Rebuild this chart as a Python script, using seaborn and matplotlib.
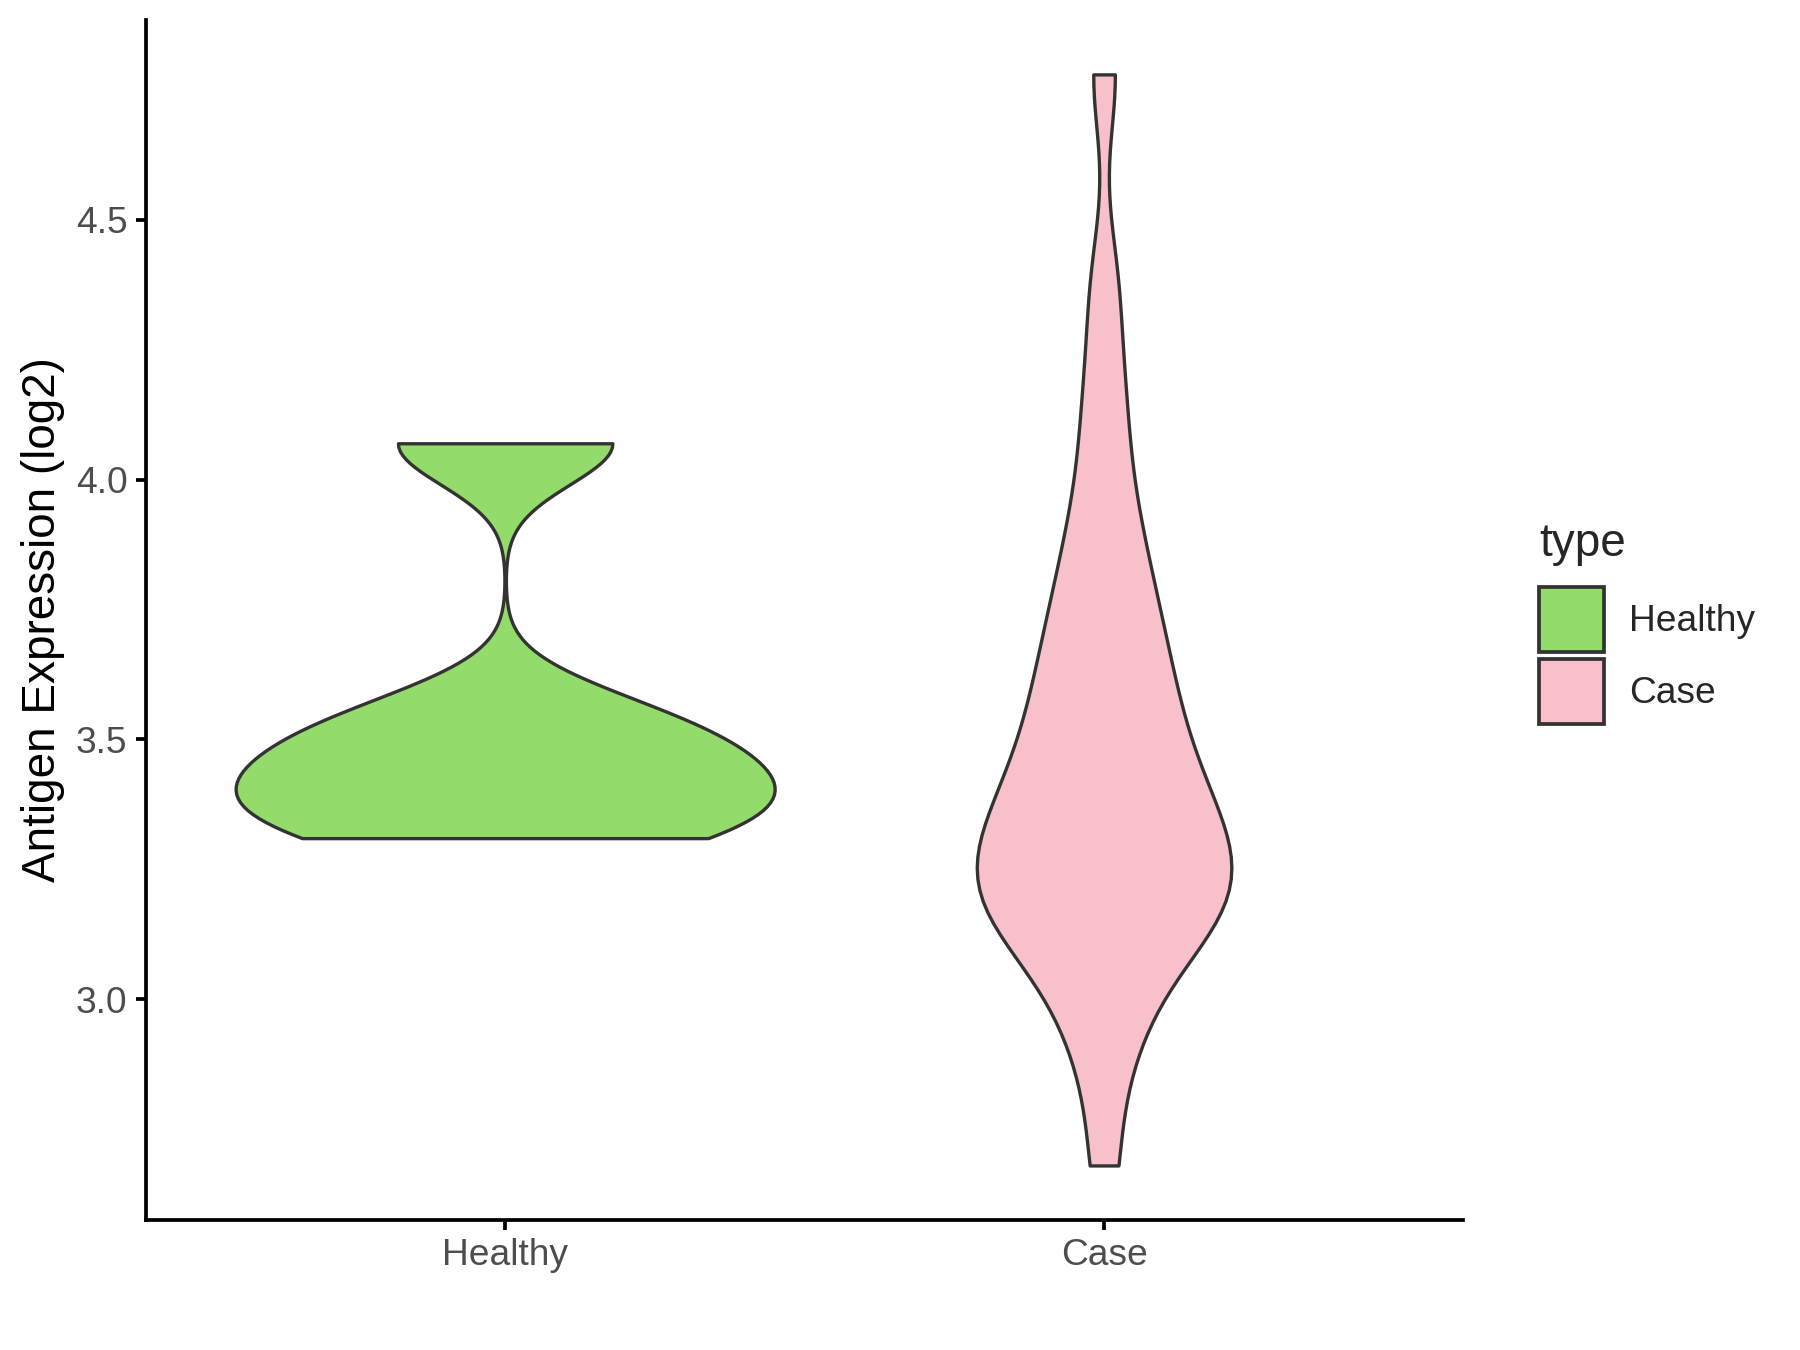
import numpy as np
import pandas as pd
import matplotlib
matplotlib.use("Agg")
import matplotlib.pyplot as plt
from matplotlib.patches import Patch
import seaborn as sns

# ---- data ----
categories = ["Healthy", "Case"]
healthy_values = [3.31, 3.38, 3.45, 3.54, 4.07]
case_values = [2.68, 2.87, 2.95, 3.03, 3.08, 3.11, 3.14, 3.17, 3.19, 3.2,
               3.225, 3.23, 3.25, 3.28, 3.31, 3.34, 3.36, 3.375, 3.41, 3.445,
               3.48, 3.52, 3.56, 3.6, 3.645, 3.69, 3.745, 3.8, 3.87, 3.95,
               4.07, 4.2, 4.38, 4.78]
colors = {"Healthy": "#93DB6B", "Case": "#F7C0CB"}
y_ticks = [3.0, 3.5, 4.0, 4.5]
y_label = "Antigen Expression (log2)"
legend_title = "type"

df = pd.DataFrame({
    "type": ["Healthy"] * len(healthy_values) + ["Case"] * len(case_values),
    "value": healthy_values + case_values,
})

sns.set_theme(style="white")
plt.rcParams["font.family"] = ["Liberation Sans", "DejaVu Sans"]

fig = plt.figure(figsize=(12, 9), dpi=150)
ax = fig.add_axes([0.081, 0.0963, 0.732, 0.889])

edge = "#333333"
sns.violinplot(data=df, x="type", y="value", hue="type", order=categories,
               hue_order=categories, palette=colors, saturation=1, cut=0,
               inner=None, density_norm="area", common_norm=True, width=0.9,
               bw_method=0.26, linewidth=1.6, linecolor=edge, legend=False,
               ax=ax)

ax.set_xlim(-0.6, 1.6)
ax.set_ylim(2.575, 4.885)
ax.set_yticks(y_ticks)
ax.set_yticklabels([f"{t:.1f}" for t in y_ticks])
ax.set_xlabel("")
ax.set_ylabel(y_label, fontsize=22, color="black", labelpad=5)

for s in ["top", "right"]:
    ax.spines[s].set_visible(False)
for s in ["left", "bottom"]:
    ax.spines[s].set_color("black")
    ax.spines[s].set_linewidth(1.8)

ax.tick_params(axis="both", which="major", direction="out", length=4.8, width=1.8,
               color="black", labelsize=17.8, labelcolor="#4D4D4D",
               left=True, bottom=True, pad=4)

handles = [Patch(facecolor=colors[c], edgecolor=edge, linewidth=1.8, label=c)
           for c in categories]
leg = fig.legend(handles=handles, title=legend_title, loc="upper left",
                 bbox_to_anchor=(0.855, 0.613), frameon=False, fontsize=17.8,
                 title_fontsize=22, handlelength=1.74, handleheight=2.3,
                 labelspacing=0.2, handletextpad=0.7, borderaxespad=0,
                 borderpad=0)
leg._legend_box.align = "left"
leg._legend_box.sep = 10

fig.savefig("out.png", dpi=150, facecolor="white")
